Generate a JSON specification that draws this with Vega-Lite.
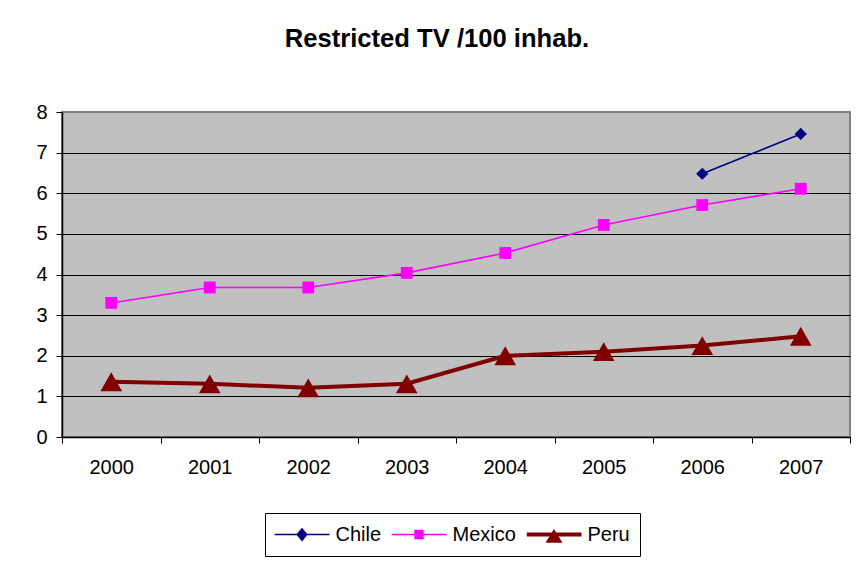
{
  "$schema": "https://vega.github.io/schema/vega-lite/v6.json",
  "width": 788,
  "height": 325,
  "autosize": "none",
  "padding": {"left": 62, "top": 112, "right": 7, "bottom": 124},
  "background": "white",
  "title": {
    "text": "Restricted TV /100 inhab.",
    "font": "Liberation Sans",
    "fontSize": 25.6,
    "fontWeight": "bold",
    "color": "black",
    "anchor": "middle",
    "baseline": "alphabetic",
    "dx": -19,
    "offset": 29
  },
  "config": {
    "font": "Liberation Sans",
    "view": {"fill": "#C0C0C0", "stroke": "#808080", "strokeWidth": 2},
    "axis": {
      "labelFont": "Liberation Sans",
      "labelFontSize": 20,
      "labelColor": "black",
      "domainColor": "black",
      "tickColor": "black",
      "tickSize": 6,
      "title": null
    }
  },
  "data": {
    "values": [
      {"year": "2006", "country": "Chile", "value": 6.48},
      {"year": "2007", "country": "Chile", "value": 7.46},
      {"year": "2000", "country": "Mexico", "value": 3.3},
      {"year": "2001", "country": "Mexico", "value": 3.68},
      {"year": "2002", "country": "Mexico", "value": 3.68},
      {"year": "2003", "country": "Mexico", "value": 4.04},
      {"year": "2004", "country": "Mexico", "value": 4.53},
      {"year": "2005", "country": "Mexico", "value": 5.22},
      {"year": "2006", "country": "Mexico", "value": 5.71},
      {"year": "2007", "country": "Mexico", "value": 6.11},
      {"year": "2000", "country": "Peru", "value": 1.36},
      {"year": "2001", "country": "Peru", "value": 1.31},
      {"year": "2002", "country": "Peru", "value": 1.21},
      {"year": "2003", "country": "Peru", "value": 1.31},
      {"year": "2004", "country": "Peru", "value": 2.0},
      {"year": "2005", "country": "Peru", "value": 2.1},
      {"year": "2006", "country": "Peru", "value": 2.25},
      {"year": "2007", "country": "Peru", "value": 2.48}
    ]
  },
  "encoding": {
    "x": {
      "field": "year",
      "type": "ordinal",
      "scale": {"type": "band", "paddingInner": 0, "paddingOuter": 0},
      "axis": {"labelAngle": 0, "tickBand": "extent", "labelPadding": 14, "grid": false, "domainWidth": 1.5}
    },
    "y": {
      "field": "value",
      "type": "quantitative",
      "scale": {"domain": [0, 8], "nice": false},
      "axis": {
        "values": [0, 1, 2, 3, 4, 5, 6, 7, 8],
        "grid": true,
        "gridColor": {"condition": {"test": "datum.value === 8", "value": "#808080"}, "value": "black"},
        "gridOpacity": 1,
        "gridWidth": 1,
        "labelPadding": 9,
        "domainWidth": 1.5
      }
    }
  },
  "layer": [
    {
      "transform": [{"filter": "datum.country === 'Chile'"}],
      "mark": {"type": "line", "strokeWidth": 1.6},
      "encoding": {
        "color": {
          "field": "country",
          "type": "nominal",
          "scale": {"domain": ["Chile", "Mexico", "Peru"], "range": ["#000080", "#FF00FF", "#800000"]},
          "legend": {
            "orient": "none",
            "direction": "horizontal",
            "legendX": 203,
            "legendY": 401,
            "title": null,
            "strokeColor": "black",
            "padding": 9.5,
            "fillColor": "white",
            "symbolSize": 3025,
            "clipHeight": 24,
            "labelFont": "Liberation Sans",
            "labelFontSize": 20,
            "labelColor": "black",
            "labelOffset": 6,
            "columnPadding": 10,
            "encode": {
              "symbols": {
                "update": {
                  "size": {"value": 3025},
                  "shape": {"signal": "datum.value === 'Chile' ? 'M-1,-0.028H1V0.028H-1ZM0,-0.25L0.21,0L0,0.25L-0.21,0Z' : datum.value === 'Mexico' ? 'M-1,-0.028H1V0.028H-1ZM-0.17,-0.17H0.17V0.17H-0.17Z' : 'M-1,-0.073H1V0.073H-1ZM0,-0.2L0.31,0.3H-0.31Z'"},
                  "fill": {"signal": "scale('color', datum.value)"},
                  "fillOpacity": {"value": 1},
                  "strokeWidth": {"value": 0},
                  "opacity": {"value": 1}
                }
              }
            }
          }
        }
      }
    },
    {
      "transform": [{"filter": "datum.country === 'Mexico'"}],
      "mark": {"type": "line", "strokeWidth": 1.6},
      "encoding": {"color": {"field": "country", "type": "nominal"}}
    },
    {
      "transform": [{"filter": "datum.country === 'Peru'"}],
      "mark": {"type": "line", "strokeWidth": 4},
      "encoding": {"color": {"field": "country", "type": "nominal"}}
    },
    {
      "transform": [{"filter": "datum.country === 'Chile'"}],
      "mark": {"type": "point", "shape": "diamond", "filled": true, "size": 150, "color": "#000080", "opacity": 1}
    },
    {
      "transform": [{"filter": "datum.country === 'Mexico'"}],
      "mark": {"type": "point", "shape": "square", "filled": true, "size": 140, "color": "#FF00FF", "opacity": 1}
    },
    {
      "transform": [{"filter": "datum.country === 'Peru'"}],
      "mark": {"type": "point", "shape": "triangle-up", "filled": true, "size": 470, "color": "#800000", "opacity": 1}
    }
  ]
}
